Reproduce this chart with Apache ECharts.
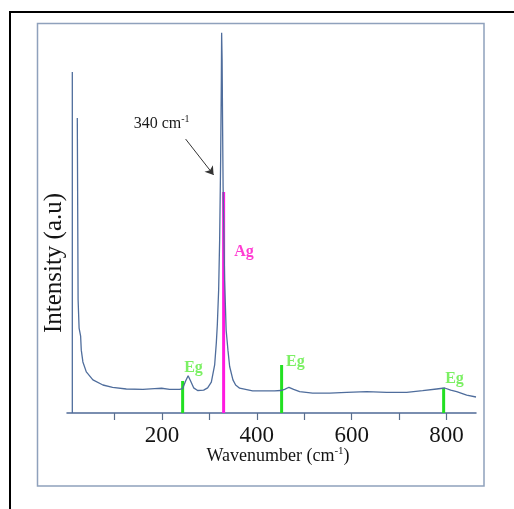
<!DOCTYPE html>
<html>
<head>
<meta charset="utf-8">
<script src="https://cdn.jsdelivr.net/npm/echarts@6/dist/echarts.min.js"></script>
<style>html,body{margin:0;padding:0;background:#fff;}#c{width:514px;height:509px;}</style>
</head>
<body>
<div id="c"></div>
<script>
// Raman spectrum: [wavenumber, intensity (a.u.)]
var spectrum = [
  [21.7,774],[23.4,297],[25.5,223],[27.6,218],[28.7,202],[30.1,165],[33.5,134],[40.7,108],
  [54.6,87],[75.7,73.5],[96.1,67.5],[125,63],[160,62],[184.6,64],[199.4,65],[216.3,62],
  [237.4,62],[243.7,64],[250,84],[255.3,98],[260.5,84],[266.9,66],[275.3,59],[288,60],
  [296.4,66],[304.2,81],[311.2,126],[314.7,184],[316.8,231],[319.6,323],[321.7,454],
  [323.8,664],[325.3,874],[325.9,998],[326.9,927],[328,743],[329,593],[332.2,349],
  [335.4,218],[339.2,165],[342.8,122],[349.7,87],[355.4,73.5],[363.8,65],[391.2,58],
  [412.3,58],[437.6,58],[450.3,59],[458.7,62],[467.7,67.5],[477.6,62],[490.3,56],
  [517.7,52],[553.6,52],[589.4,54],[631.6,56],[673.8,54],[715.9,54],[749.6,58.5],
  [779.1,63],[796,65.6],[808.7,60],[821.3,56],[842.4,47],[862,42]
];
// Laser line at the start of the spectrum
var laserLine = [[11.2,0],[11.2,895]];
// Mode markers
var egModes = [[243.7,84],[452.3,126],[793.8,66]];
var agModes = [[330.1,580]];
var egLabels = ['Eg','Eg','Eg'];
var agLabels = ['Ag'];
// Annotation: arrow to the main peak
var arrowFrom = [250,719];
var arrowTo = [309,625];
var peakNote = [199.4,759];
var peakNoteText = '340 cm';
var tickValues = [100,200,300,400,500,600,700,800];
var labelValues = [200,400,600,800];

var lineColor = '#4f6d9c';
var serif = '"Liberation Serif","Times New Roman",serif';

var egLabelPos = [[3,-13],[6,-3],[3,-9]];
var chart = echarts.init(document.getElementById('c'), null, {renderer:'canvas'});
chart.setOption({
  backgroundColor:'#ffffff',
  animation:false,
  grid:{left:67, right:38, top:32, bottom:96},
  xAxis:{
    type:'value', min:0, max:862,
    axisLine:{show:true, onZero:false, lineStyle:{color:'#4f6a96', width:1.5}},
    axisTick:{show:true, customValues:tickValues, length:7, lineStyle:{color:'#5a6e8c', width:1.2}},
    axisLabel:{show:true, customValues:labelValues, margin:11, color:'#141414', fontFamily:serif, fontSize:23},
    splitLine:{show:false}
  },
  yAxis:{
    type:'value', min:0, max:1000,
    axisLine:{show:false}, axisTick:{show:false}, axisLabel:{show:false}, splitLine:{show:false}
  },
  series:[
    {
      type:'line', data:laserLine, symbol:'none', silent:true,
      lineStyle:{color:lineColor, width:1.3}
    },
    {
      type:'line', data:spectrum, symbol:'none', silent:true,
      lineStyle:{color:lineColor, width:1.3},
      markLine:{
        silent:true, symbol:['none','arrow'], symbolSize:8,
        lineStyle:{color:'#333333', width:1, type:'solid'},
        label:{show:false},
        data:[[{coord:arrowFrom},{coord:arrowTo}]]
      },
      markPoint:{
        silent:true, symbol:'circle', symbolSize:0,
        itemStyle:{color:'transparent'},
        label:{
          show:true, position:'inside',
          formatter:'{a|' + peakNoteText + '}{s|-1}',
          rich:{
            a:{fontFamily:serif, fontSize:16, color:'#1a1a1a'},
            s:{fontFamily:serif, fontSize:10, color:'#1a1a1a', verticalAlign:'top', padding:[0,0,8,0]}
          }
        },
        data:[{coord:peakNote}]
      }
    },
    {
      type:'bar', data:egModes.map(function(d,i){
        return {value:d, label:{position:egLabelPos[i]}};
      }),
      barWidth:3, barGap:'-100%', silent:true,
      itemStyle:{color:'#22e022'},
      label:{show:true, formatter:function(p){return egLabels[p.dataIndex];},
        align:'left', verticalAlign:'middle',
        fontFamily:serif, fontWeight:'bold', fontSize:16, color:'#7cf064'}
    },
    {
      type:'bar', data:agModes.map(function(d){return {value:d, label:{position:[12,60]}};}),
      barWidth:3, barGap:'-100%', silent:true,
      itemStyle:{color:'#ff1ae0'},
      label:{show:true, formatter:function(p){return agLabels[p.dataIndex];},
        align:'left', verticalAlign:'middle',
        fontFamily:serif, fontWeight:'bold', fontSize:16, color:'#ff3cd2'}
    }
  ],
  graphic:[
    {type:'rect', shape:{x:10, y:12, width:540, height:540}, style:{fill:null, stroke:'#000000', lineWidth:2}, silent:true},
    {type:'rect', shape:{x:37.5, y:23.5, width:446.5, height:462.5}, style:{fill:null, stroke:'#8fa1bc', lineWidth:1.5}, silent:true},
    {type:'text', x:54, y:263, rotation:Math.PI/2, silent:true,
      style:{text:'Intensity (a.u)', align:'center', verticalAlign:'middle', font:'25px ' + serif, fill:'#141414'}},
    {type:'text', x:278, y:456, silent:true,
      style:{
        text:'{a|Wavenumber (cm}{s|-1}{a|)}', align:'center', verticalAlign:'middle',
        rich:{
          a:{fontFamily:serif, fontSize:18, fill:'#141414'},
          s:{fontFamily:serif, fontSize:11, fill:'#141414', verticalAlign:'top', padding:[0,0,9,0]}
        }
      }}
  ]
});
</script>
</body>
</html>
